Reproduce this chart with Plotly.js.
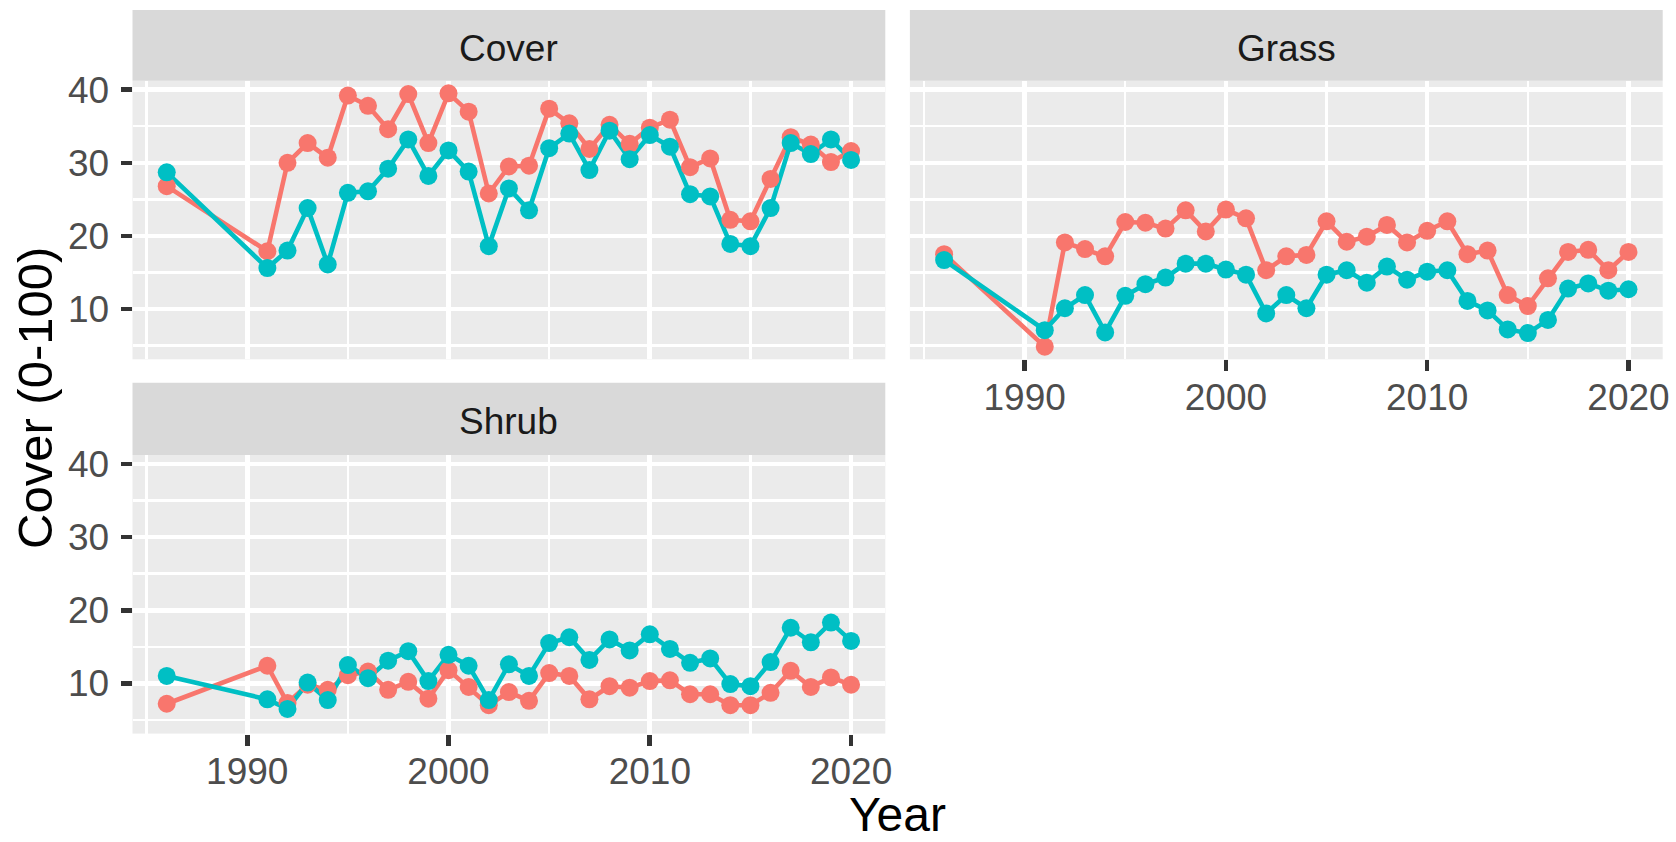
<!DOCTYPE html>
<html>
<head>
<meta charset="utf-8">
<script src="https://cdn.plot.ly/plotly-3.0.1.min.js"></script>
<style>
html,body{margin:0;padding:0;background:#ffffff;}
#chart{width:1676px;height:842px;}
</style>
</head>
<body>
<div id="chart"></div>
<script>
// ---------------- data ----------------
const years = [1986, 1991, 1992, 1993, 1994, 1995, 1996, 1997, 1998, 1999, 2000,
               2001, 2002, 2003, 2004, 2005, 2006, 2007, 2008, 2009, 2010,
               2011, 2012, 2013, 2014, 2015, 2016, 2017, 2018, 2019, 2020];

const panels = ["Cover", "Grass", "Shrub"];

const coverRed  = [26.8, 17.9, 30.0, 32.7, 30.7, 39.2, 37.8, 34.6, 39.4, 32.7, 39.5,
                   37.0, 25.8, 29.5, 29.6, 37.4, 35.4, 31.9, 35.2, 32.6, 34.8,
                   35.9, 29.4, 30.6, 22.2, 22.0, 27.8, 33.5, 32.5, 30.1, 31.6];
const coverTeal = [28.7, 15.6, 18.0, 23.8, 16.1, 25.9, 26.1, 29.2, 33.2, 28.2, 31.7,
                   28.8, 18.6, 26.5, 23.5, 32.0, 34.0, 29.0, 34.4, 30.5, 33.8,
                   32.2, 25.7, 25.4, 18.9, 18.6, 23.8, 32.7, 31.2, 33.2, 30.4];

const grassRed  = [17.5, 4.85, 19.1, 18.2, 17.2, 21.9, 21.8, 21.0, 23.5, 20.6, 23.6,
                   22.4, 15.3, 17.2, 17.4, 22.0, 19.2, 19.9, 21.5, 19.1, 20.7,
                   22.0, 17.5, 18.0, 11.9, 10.4, 14.2, 17.8, 18.1, 15.3, 17.8];
const grassTeal = [16.7, 7.1, 10.1, 11.9, 6.8, 11.8, 13.4, 14.3, 16.2, 16.2, 15.4,
                   14.7, 9.4, 11.9, 10.1, 14.7, 15.3, 13.6, 15.8, 14.0, 15.1,
                   15.3, 11.1, 9.8, 7.2, 6.7, 8.5, 12.8, 13.5, 12.5, 12.7];

const shrubRed  = [7.2, 12.4, 7.3, 9.8, 9.1, 11.1, 11.6, 9.1, 10.2, 7.9, 11.8,
                   9.5, 7.0, 8.8, 7.6, 11.4, 11.0, 7.8, 9.6, 9.4, 10.3,
                   10.4, 8.5, 8.5, 7.0, 7.0, 8.7, 11.7, 9.5, 10.8, 9.8];
const shrubTeal = [11.0, 7.8, 6.5, 10.1, 7.7, 12.5, 10.7, 13.1, 14.4, 10.3, 13.9,
                   12.4, 7.7, 12.6, 11.0, 15.5, 16.3, 13.2, 16.0, 14.5, 16.7,
                   14.7, 12.8, 13.4, 9.9, 9.6, 12.9, 17.6, 15.6, 18.3, 15.8];

const xTickVals = [1990, 2000, 2010, 2020];
const xTickLabels = ["1990", "2000", "2010", "2020"];
const xMinorVals = [1985, 1995, 2005, 2015];
const yTickVals = [10, 20, 30, 40];
const yTickLabels = ["10", "20", "30", "40"];
const yMinorVals = [5, 15, 25, 35];

const xTitle = "Year";
const yTitle = "Cover (0-100)";

// ---------------- styling ----------------
const RED = "#F8766D", TEAL = "#00BFC4";
const W = 1676, H = 842;
const fx = p => p / W;
const fy = p => 1 - p / H;
const FONT = "Liberation Sans, Arial, Helvetica, sans-serif";

// ggplot-like 5% expansion of shared scales
function expand(vals) {
  const lo = Math.min(...vals), hi = Math.max(...vals), d = (hi - lo) * 0.05;
  return [lo - d, hi + d];
}
const xRange = expand(years);
const yRange = expand([].concat(coverRed, coverTeal, grassRed, grassTeal, shrubRed, shrubTeal));

// panel pixel boxes
const colL = [132.5, 909.9], colR = [885.3, 1662.7];
const rowT = [80.7, 455.0], rowB = [359.3, 733.6];
const stripT = [10.0, 382.7];

const series = [
  [coverRed, coverTeal, "x", "y"],
  [grassRed, grassTeal, "x2", "y2"],
  [shrubRed, shrubTeal, "x3", "y3"]
];

const traces = [];
series.forEach(([r, t, xa, ya]) => {
  traces.push({x: years, y: r, xaxis: xa, yaxis: ya, type: "scatter", mode: "lines",
               line: {color: RED, width: 4.6}, hoverinfo: "skip"});
  traces.push({x: years, y: t, xaxis: xa, yaxis: ya, type: "scatter", mode: "lines",
               line: {color: TEAL, width: 4.6}, hoverinfo: "skip"});
});
series.forEach(([r, t, xa, ya]) => {
  traces.push({x: years, y: r, xaxis: xa, yaxis: ya, type: "scatter", mode: "markers",
               marker: {color: RED, size: 18, line: {width: 0}}, hoverinfo: "skip"});
  traces.push({x: years, y: t, xaxis: xa, yaxis: ya, type: "scatter", mode: "markers",
               marker: {color: TEAL, size: 18, line: {width: 0}}, hoverinfo: "skip"});
});

const tickFont = {family: FONT, size: 37, color: "#4D4D4D"};

function xAxis(domain, anchor, showLabels) {
  return {
    domain: domain, anchor: anchor, range: xRange, fixedrange: true,
    tickmode: "array", tickvals: xTickVals, ticktext: xTickLabels,
    showticklabels: showLabels, ticks: showLabels ? "outside" : "",
    ticklen: 11, tickwidth: 4.6, tickcolor: "#333333", tickfont: tickFont,
    ticklabelstandoff: -6,
    showgrid: true, gridcolor: "#FFFFFF", gridwidth: 4.6,
    minor: {tickmode: "array", tickvals: xMinorVals, showgrid: true,
            gridcolor: "#FFFFFF", gridwidth: 2.4, ticks: ""},
    zeroline: false, showline: false
  };
}
function yAxis(domain, anchor, showLabels) {
  return {
    domain: domain, anchor: anchor, range: yRange, fixedrange: true,
    tickmode: "array", tickvals: yTickVals, ticktext: yTickLabels,
    showticklabels: showLabels, ticks: showLabels ? "outside" : "",
    ticklen: 11, tickwidth: 4.6, tickcolor: "#333333", tickfont: tickFont,
    ticklabelstandoff: 4,
    showgrid: true, gridcolor: "#FFFFFF", gridwidth: 4.6,
    minor: {tickmode: "array", tickvals: yMinorVals, showgrid: true,
            gridcolor: "#FFFFFF", gridwidth: 2.4, ticks: ""},
    zeroline: false, showline: false
  };
}

const dx0 = [fx(colL[0]), fx(colR[0])], dx1 = [fx(colL[1]), fx(colR[1])];
const dy0 = [fy(rowB[0]), fy(rowT[0])], dy1 = [fy(rowB[1]), fy(rowT[1])];

const strips = [
  [colL[0], colR[0], stripT[0], rowT[0]],
  [colL[1], colR[1], stripT[0], rowT[0]],
  [colL[0], colR[0], stripT[1], rowT[1]]
];

const shapes = strips.map(([l, r, t, b]) => ({
  type: "rect", xref: "paper", yref: "paper", layer: "below",
  x0: fx(l), x1: fx(r), y0: fy(b), y1: fy(t),
  fillcolor: "#D9D9D9", line: {width: 0}
}));

const annotations = strips.map(([l, r, t, b], i) => ({
  xref: "paper", yref: "paper", x: fx((l + r) / 2), y: fy((t + b) / 2 + 3),
  xanchor: "center", yanchor: "middle", showarrow: false,
  text: panels[i], font: {family: FONT, size: 37, color: "#1A1A1A"}
}));
annotations.push({
  xref: "paper", yref: "paper", x: fx((colL[0] + colR[1]) / 2), y: 0,
  xanchor: "center", yanchor: "bottom", showarrow: false, borderpad: 0,
  text: xTitle, font: {family: FONT, size: 48, color: "#000000"}
});
annotations.push({
  xref: "paper", yref: "paper", x: fx(35), y: fy(398),
  xanchor: "center", yanchor: "middle", showarrow: false, textangle: -90,
  text: yTitle, font: {family: FONT, size: 49, color: "#000000"}
});

const layout = {
  width: W, height: H, autosize: false,
  margin: {l: 0, r: 0, t: 0, b: 0, pad: 0},
  paper_bgcolor: "#FFFFFF", plot_bgcolor: "#EBEBEB",
  showlegend: false,
  font: {family: FONT},
  xaxis: xAxis(dx0, "y", false),
  yaxis: yAxis(dy0, "x", true),
  xaxis2: xAxis(dx1, "y2", true),
  yaxis2: yAxis(dy0, "x2", false),
  xaxis3: xAxis(dx0, "y3", true),
  yaxis3: yAxis(dy1, "x3", true),
  shapes: shapes,
  annotations: annotations
};

Plotly.newPlot("chart", traces, layout, {staticPlot: true, displayModeBar: false});
</script>
</body>
</html>
